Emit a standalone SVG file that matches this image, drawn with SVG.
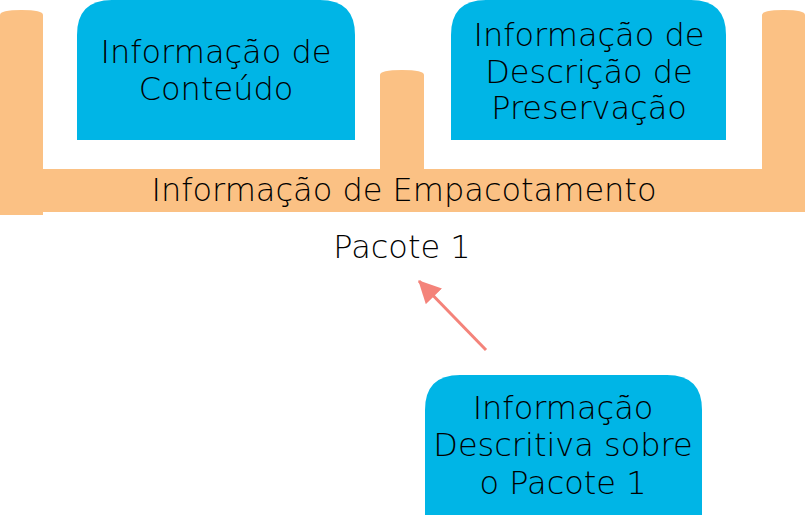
<svg xmlns="http://www.w3.org/2000/svg" width="805" height="515" viewBox="0 0 805 515">
<defs>
<style>
.pillar{fill:#FBC184;}
.box{fill:#00B5E6;}
text{font-family:"DejaVu Sans",sans-serif;font-size:32px;font-weight:200;fill:#000;text-anchor:middle;}
</style>
<marker id="ah" viewBox="0 0 10 10" refX="9.5" refY="5" markerWidth="7.5" markerHeight="8" markerUnits="strokeWidth" orient="auto">
<path d="M0,0 L10,5 L0,10 Z" fill="#F4837A"/>
</marker>
</defs>
<rect width="805" height="515" fill="#fff"/>
<g id="packaging">
<path class="pillar" d="M0,15 Q0,10 21.5,10 Q43,10 43,15 L43,169 L380,169 L380,75 Q380,70 402,70 Q424,70 424,75 L424,169 L762,169 L762,15 Q762,10 783.5,10 Q805,10 805,15 L805,212 L43,212 L43,215 L0,215 Z"/>
<text x="404" y="201">Informação de Empacotamento</text>
</g>
<g id="content">
<path class="box" d="M77,140 L77,35 Q77,0 112,0 L320,0 Q355,0 355,35 L355,140 Z"/>
<text x="216" y="63">Informação de</text>
<text x="216" y="100">Conteúdo</text>
</g>
<g id="pdi">
<path class="box" d="M451,140 L451,35 Q451,0 486,0 L691,0 Q726,0 726,35 L726,140 Z"/>
<text x="589" y="46">Informação de</text>
<text x="589" y="83">Descrição de</text>
<text x="589" y="119">Preservação</text>
</g>
<g id="package">
<text x="402" y="258">Pacote 1</text>
</g>
<g id="descriptive">
<path class="box" d="M425,515 L425,410 Q425,375 460,375 L667,375 Q702,375 702,410 L702,515 Z"/>
<text x="563" y="419">Informação</text>
<text x="563" y="456">Descritiva sobre</text>
<text x="563" y="494">o Pacote 1</text>
</g>
<g id="connectors">
<line x1="486" y1="350" x2="419" y2="281" stroke="#F4837A" stroke-width="3" marker-end="url(#ah)"/>
</g>
</svg>
